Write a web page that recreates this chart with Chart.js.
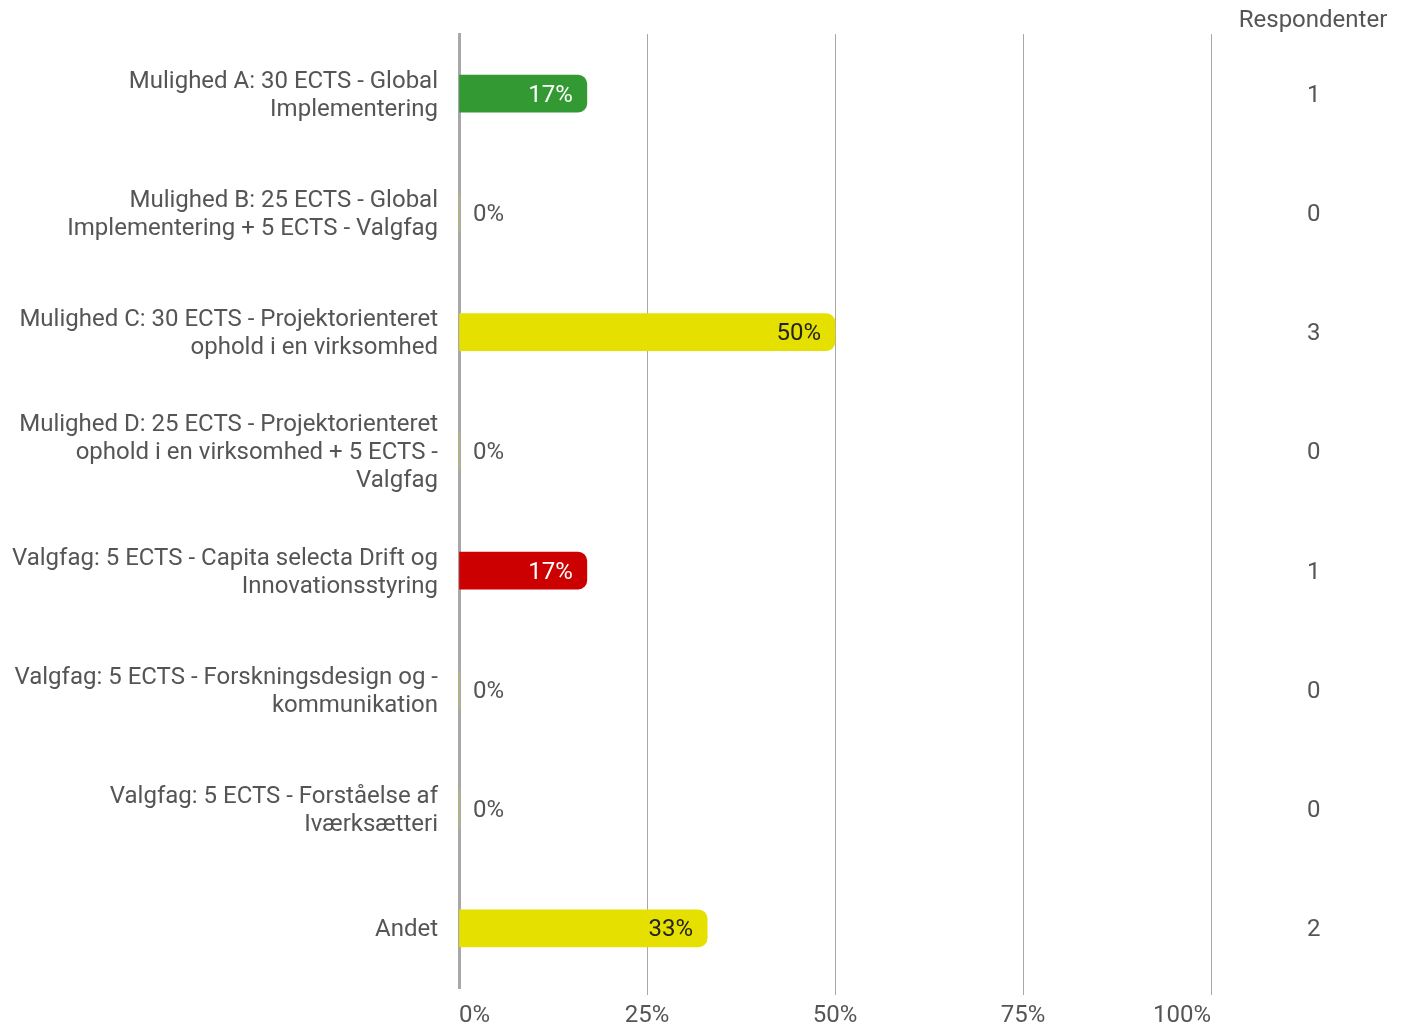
<!DOCTYPE html>
<html>
<head>
<meta charset="utf-8">
<script src="https://cdn.jsdelivr.net/npm/chart.js@4"></script>
<style>
  html, body { margin: 0; padding: 0; background: #fff; }
  #wrap { width: 1405px; height: 1028px; }
</style>
</head>
<body>
<div id="wrap"><canvas id="chart" width="1405" height="1028"></canvas></div>
<script>
const categories = [
  ['Mulighed A: 30 ECTS - Global', 'Implementering'],
  ['Mulighed B: 25 ECTS - Global', 'Implementering + 5 ECTS - Valgfag'],
  ['Mulighed C: 30 ECTS - Projektorienteret', 'ophold i en virksomhed'],
  ['Mulighed D: 25 ECTS - Projektorienteret', 'ophold i en virksomhed + 5 ECTS -', 'Valgfag'],
  ['Valgfag: 5 ECTS - Capita selecta Drift og', 'Innovationsstyring'],
  ['Valgfag: 5 ECTS - Forskningsdesign og -', 'kommunikation'],
  ['Valgfag: 5 ECTS - Forståelse af', 'Iværksætteri'],
  ['Andet']
];
const percents = [17, 0, 50, 0, 17, 0, 0, 33];
const respondents = [1, 0, 3, 0, 1, 0, 0, 2];
const barColors = ['#339933', '#e6e000', '#e6e000', '#e6e000', '#cc0000', '#e6e000', '#e6e000', '#e6e000'];
const labelColors = ['#ffffff', '#222222', '#222222', '#222222', '#ffffff', '#222222', '#222222', '#222222'];
const xTicks = [0, 25, 50, 75, 100];

const FONT = 'Roboto, "Noto Sans", sans-serif';
const TEXT = '#555555';

const barLabels = {
  id: 'barLabels',
  afterDatasetsDraw(chart) {
    const ctx = chart.ctx;
    const meta = chart.getDatasetMeta(0);
    const xs = chart.scales.x;
    ctx.save();
    ctx.font = '24px ' + FONT;
    ctx.textBaseline = 'middle';
    meta.data.forEach((bar, i) => {
      const v = percents[i];
      if (v > 0) {
        ctx.fillStyle = labelColors[i];
        ctx.textAlign = 'right';
        ctx.fillText(v + '%', bar.x - 14, bar.y + 2);
      } else {
        ctx.fillStyle = TEXT;
        ctx.textAlign = 'left';
        ctx.fillText(v + '%', xs.getPixelForValue(0) + 14, bar.y + 2);
      }
    });
    // column header
    ctx.fillStyle = TEXT;
    ctx.textAlign = 'center';
    ctx.fillText('Respondenter', 1313, 21);
    ctx.restore();
  }
};

function noPad(scale) {
  scale.paddingTop = 0;
  scale.paddingBottom = 0;
}

new Chart(document.getElementById('chart').getContext('2d'), {
  type: 'bar',
  data: {
    labels: categories,
    datasets: [{
      data: percents,
      backgroundColor: barColors,
      borderRadius: { topLeft: 0, bottomLeft: 0, topRight: 9, bottomRight: 9 },
      borderSkipped: false,
      barThickness: 37
    }]
  },
  options: {
    indexAxis: 'y',
    responsive: false,
    animation: false,
    layout: { padding: { top: 34, left: 0, right: 0, bottom: 0 } },
    plugins: { legend: { display: false }, tooltip: { enabled: false } },
    scales: {
      x: {
        min: 0, max: 100,
        afterBuildTicks(scale) { scale.ticks = xTicks.map(v => ({ value: v })); },
        afterFit(scale) { scale.height = 40; },
        grid: {
          color: ctx => ctx.index === 0 ? 'rgba(0,0,0,0)' : '#a8a8a8',
          lineWidth: 1,
          tickLength: 7,
          drawTicks: true
        },
        border: { display: false },
        ticks: {
          align: 'inner',
          padding: 7,
          color: TEXT,
          font: { family: FONT, size: 24 },
          callback: v => v + '%'
        }
      },
      y: {
        position: 'left',
        afterFit(scale) { scale.width = 459; noPad(scale); },
        grid: { display: false, drawTicks: false },
        border: { display: true, color: '#a8a8a8', width: 3 },
        ticks: {
          padding: 21,
          labelOffset: 2,
          color: TEXT,
          font: { family: FONT, size: 24, lineHeight: 1.17 }
        }
      },
      y2: {
        type: 'category',
        position: 'right',
        labels: respondents.map(String),
        offset: true,
        afterFit(scale) { scale.width = 194; noPad(scale); },
        grid: { display: false, drawTicks: false },
        border: { display: false },
        ticks: {
          padding: 96,
          labelOffset: 2,
          crossAlign: 'center',
          color: TEXT,
          font: { family: FONT, size: 24 }
        }
      }
    }
  },
  plugins: [barLabels]
});
</script>
</body>
</html>
